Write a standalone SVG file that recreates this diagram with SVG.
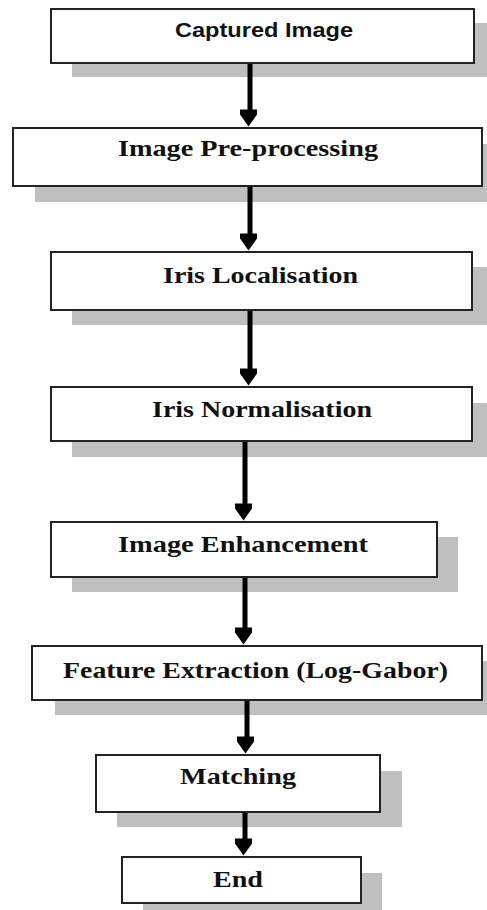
<svg xmlns="http://www.w3.org/2000/svg" width="487" height="910" viewBox="0 0 487 910">
<style>
.sh{fill:#bfbfbf;stroke:none}
.bx{fill:#fff;stroke:#222;stroke-width:2}
.t{font-family:"Liberation Serif","Times New Roman",serif;font-weight:bold;font-size:24px;fill:#111;text-anchor:middle}
.ts{font-family:"Liberation Sans",Arial,sans-serif;font-weight:bold;font-size:20px;fill:#111;text-anchor:middle}
.c{stroke:#000;stroke-width:5;fill:none;marker-end:url(#ah)}
</style>
<defs>
<marker id="ah" markerUnits="userSpaceOnUse" markerWidth="24" markerHeight="17" refX="12" refY="7" orient="auto-start-reverse" viewBox="0 0 24 17">
<path d="M0,0 L24,0 L12,17 z" fill="#000" transform="rotate(-90 12 8.5)"/>
</marker>
</defs>
<rect width="487" height="910" fill="#fff"/>
<g id="n1"><rect class="sh" x="72" y="23" width="423" height="54"/><rect class="bx" x="51" y="9" width="423" height="54"/><text class="ts" x="264" y="37" textLength="178" lengthAdjust="spacingAndGlyphs">Captured Image</text></g>
<g id="n2"><rect class="sh" x="35" y="144" width="469" height="58"/><rect class="bx" x="13" y="128" width="469" height="58"/><text class="t" x="248" y="156" textLength="260" lengthAdjust="spacingAndGlyphs">Image Pre-processing</text></g>
<g id="n3"><rect class="sh" x="72" y="267" width="421" height="58"/><rect class="bx" x="51" y="252" width="421" height="58"/><text class="t" x="260.5" y="283" textLength="195" lengthAdjust="spacingAndGlyphs">Iris Localisation</text></g>
<g id="n4"><rect class="sh" x="72" y="403" width="421" height="54"/><rect class="bx" x="51" y="387" width="421" height="54"/><text class="t" x="262" y="417" textLength="220" lengthAdjust="spacingAndGlyphs">Iris Normalisation</text></g>
<g id="n5"><rect class="sh" x="72" y="537" width="386" height="55"/><rect class="bx" x="51" y="522" width="386" height="55"/><text class="t" x="243" y="552" textLength="250" lengthAdjust="spacingAndGlyphs">Image Enhancement</text></g>
<g id="n6"><rect class="sh" x="55" y="661" width="450" height="54"/><rect class="bx" x="32" y="646" width="450" height="54"/><text class="t" x="255.5" y="678" textLength="385" lengthAdjust="spacingAndGlyphs">Feature Extraction (Log-Gabor)</text></g>
<g id="n7"><rect class="sh" x="117" y="771" width="285" height="56"/><rect class="bx" x="96" y="755" width="284" height="57"/><text class="t" x="238" y="784" textLength="116" lengthAdjust="spacingAndGlyphs">Matching</text></g>
<g id="n8"><rect class="sh" x="143" y="873" width="239" height="46"/><rect class="bx" x="122" y="857" width="239" height="46"/><text class="t" x="238" y="887" textLength="50" lengthAdjust="spacingAndGlyphs">End</text></g>
<g id="connectors">
<path class="c" d="M250,64 V118"/>
<path class="c" d="M250,187 V242"/>
<path class="c" d="M250,311 V377"/>
<path class="c" d="M245,442 V512"/>
<path class="c" d="M245,578 V636"/>
<path class="c" d="M247,701 V745"/>
<path class="c" d="M245,813 V847"/>
</g>
</svg>
